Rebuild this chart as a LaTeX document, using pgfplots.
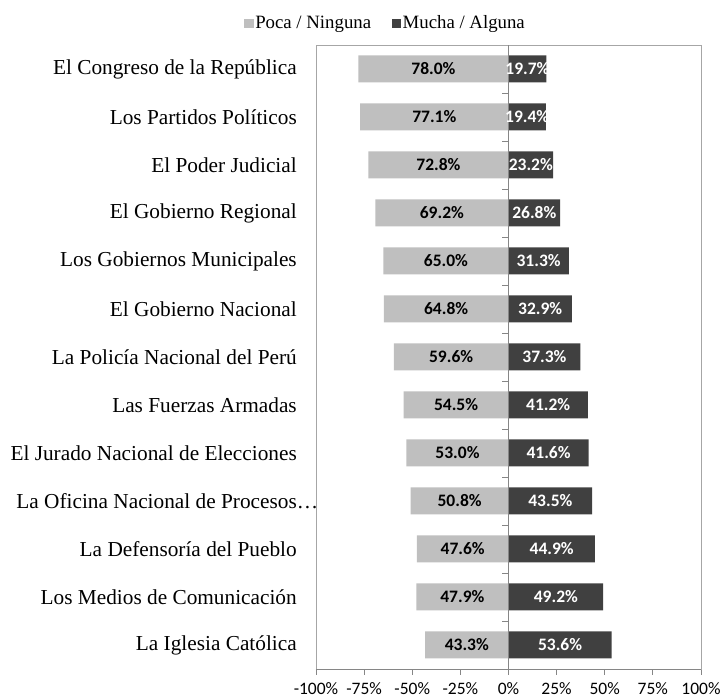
\documentclass[border=0pt]{standalone}
\usepackage{pgfplots}
\pgfplotsset{compat=1.18}
\usepackage{pgfplotstable}
\usepackage{fontspec}
\setmainfont{Liberation Serif}
\newfontfamily\calibri{Carlito}
\definecolor{poca}{HTML}{BFBFBF}
\definecolor{mucha}{HTML}{404040}
\definecolor{boxgray}{HTML}{A6A6A6}
\definecolor{axgray}{HTML}{868686}

% bottom-to-top order
\pgfplotstableread{
poca mucha
43.3 53.6
47.9 49.2
47.6 44.9
50.8 43.5
53.0 41.6
54.5 41.2
59.6 37.3
64.8 32.9
65.0 31.3
69.2 26.8
72.8 23.2
77.1 19.4
78.0 19.7
}\data

\begin{document}
\begin{tikzpicture}
\begin{axis}[
  scale only axis, width=385pt, height=624pt,
  xmin=-100, xmax=100, ymin=0.5, ymax=13.5,
  xbar, bar shift=0pt, bar width=27pt,
  /pgf/number format/assume math mode=true,
  axis line style={boxgray, line width=0.8pt},
  xtick={-100,-75,...,100},
  xticklabel={\pgfmathprintnumber[assume math mode=true]{\tick}\%},
  xtick pos=bottom, tick align=outside, major tick length=6pt,
  x tick style={axgray, line width=0.8pt},
  x tick label style={font=\calibri\fontsize{17.5}{20}\selectfont, text=black, yshift=-4pt},
  ytick={1,...,13},
  yticklabels={La Iglesia Católica, Los Medios de Comunicación, La Defensoría del Pueblo,
    {La Oficina Nacional de Procesos\rlap{…}}, El Jurado Nacional de Elecciones,
    Las Fuerzas Armadas, La Policía Nacional del Perú, El Gobierno Nacional,
    Los Gobiernos Municipales, El Gobierno Regional, El Poder Judicial,
    Los Partidos Políticos, El Congreso de la República},
  y tick style={draw=none},
  y tick label style={anchor=east, inner sep=0pt, xshift=-13pt, font=\fontsize{21.3}{24}\selectfont},
  legend style={at={(0.180,1)}, anchor=south, yshift=11pt, draw=none, fill=none,
    font=\fontsize{18.8}{22}\selectfont, legend columns=2,
    nodes={inner sep=1.5pt},
    /tikz/every even column/.append style={column sep=19pt},
    legend cell align=left},
  legend image code/.code={\fill[#1] (0pt,-5pt) rectangle (9.5pt,4.5pt);},
  clip=false,
]
\addplot[fill=poca, draw=none] table[x expr=-\thisrow{poca}, y expr=\coordindex+1] {\data};
\addlegendentry{Poca / Ninguna}
\addplot[fill=mucha, draw=none] table[x expr=\thisrow{mucha}, y expr=\coordindex+1] {\data};
\addlegendentry{Mucha / Alguna}

\addplot[draw=none, fill=none, forget plot, point meta=explicit,
  nodes near coords={\pgfmathprintnumber[fixed,fixed zerofill,precision=1,assume math mode=true]{\pgfplotspointmeta}\%},
  nodes near coords style={anchor=center, inner sep=0pt, text=black, font=\calibri\bfseries\fontsize{17.5}{20}\selectfont}]
  table[x expr=-\thisrow{poca}/2, y expr=\coordindex+1, meta=poca] {\data};
\addplot[draw=none, fill=none, forget plot, point meta=explicit,
  nodes near coords={\pgfmathprintnumber[fixed,fixed zerofill,precision=1,assume math mode=true]{\pgfplotspointmeta}\%},
  nodes near coords style={anchor=center, inner sep=0pt, text=white, font=\calibri\bfseries\fontsize{17.5}{20}\selectfont}]
  table[x expr=\thisrow{mucha}/2, y expr=\coordindex+1, meta=mucha] {\data};

\draw[axgray, line width=0.9pt] (axis cs:-100,0.5) -- (axis cs:100,0.5);
\draw[axgray, line width=0.9pt] (axis cs:0,0.5) -- (axis cs:0,13.5);
\pgfplotsinvokeforeach{1,...,12}{
  \draw[axgray, line width=0.8pt] (axis cs:0,#1+0.5) -- ++(-6pt,0pt);
}
\end{axis}
\pgfresetboundingbox
\path[use as bounding box] (-316pt,-31pt) rectangle (409pt,669pt);
\end{tikzpicture}
\end{document}
